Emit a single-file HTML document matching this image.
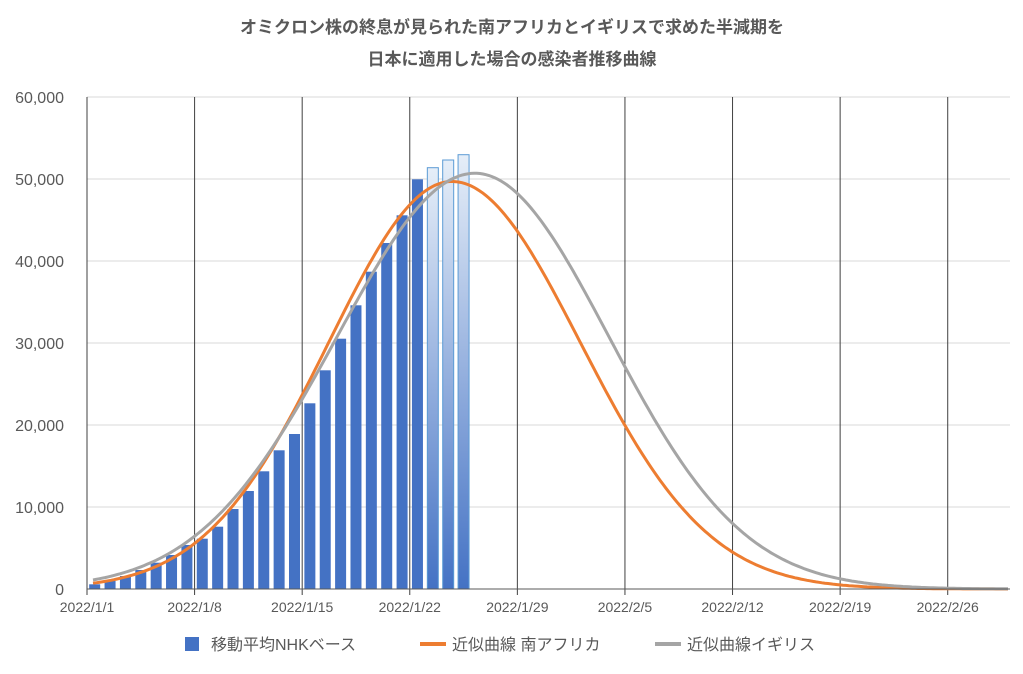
<!DOCTYPE html>
<html><head><meta charset="utf-8"><style>
body{margin:0;background:#fff;}
svg text{font-family:"Liberation Sans","Noto Sans CJK JP",sans-serif;}
</style></head><body>
<svg id="c" width="1023" height="669" xmlns="http://www.w3.org/2000/svg">
<defs><linearGradient id="g" x1="0" y1="0" x2="0" y2="1"><stop offset="0" stop-color="#e6eef8"/><stop offset="1" stop-color="#4472c4"/></linearGradient></defs>
<rect width="1023" height="669" fill="#fff"/>
<text x="512" y="33" text-anchor="middle" font-size="17" font-weight="bold" fill="#595959">オミクロン株の終息が見られた南アフリカとイギリスで求めた半減期を</text>
<text x="512" y="65" text-anchor="middle" font-size="17" font-weight="bold" fill="#595959">日本に適用した場合の感染者推移曲線</text>
<g id="grid"></g>
<g id="bars"></g>
<path id="po" fill="none" stroke="#ed7d31" stroke-width="3"/>
<path id="pg" fill="none" stroke="#a5a5a5" stroke-width="3"/>
<line x1="87" y1="589" x2="1010" y2="589" stroke="#595959" stroke-width="1"/>
<g id="lab" font-size="14" fill="#595959"></g>
<g font-size="16" fill="#595959">
<rect x="185" y="637" width="14" height="14" fill="#4472c4"/>
<text x="211" y="650">移動平均NHKベース</text>
<line x1="420" y1="644" x2="446" y2="644" stroke="#ed7d31" stroke-width="4"/>
<text x="452" y="650">近似曲線 南アフリカ</text>
<line x1="655" y1="644" x2="681" y2="644" stroke="#a5a5a5" stroke-width="4"/>
<text x="687" y="650">近似曲線イギリス</text>
</g>
</svg>
<script>
var ns="http://www.w3.org/2000/svg";
function el(p,t,a,txt){var e=document.createElementNS(ns,t);for(var k in a)e.setAttribute(k,a[k]);if(txt!==undefined)e.textContent=txt;document.getElementById(p).appendChild(e);}
var x0=87,d=15.37,y0=589,k=0.0082;
for(var i=1;i<=6;i++){var y=y0-i*10000*k;el("grid","line",{x1:87,x2:1010,y1:y,y2:y,stroke:"#d9d9d9","stroke-width":1});}
var dates=["2022/1/1","2022/1/8","2022/1/15","2022/1/22","2022/1/29","2022/2/5","2022/2/12","2022/2/19","2022/2/26"];
for(var i=0;i<9;i++){var x=x0+i*7*d;el("grid","line",{x1:x,x2:x,y1:97,y2:595,stroke:"#404040","stroke-width":1});el("lab","text",{x:x,y:612,"text-anchor":"middle"},dates[i]);}
for(var i=0;i<=6;i++){el("lab","text",{x:64,y:y0-i*10000*k+6,"text-anchor":"end","font-size":"16"},i==0?"0":(i*10)+",000");}
var tops=[584.3,581,576,570,562.7,555,545,538.7,526.7,509,491,471.3,450.3,434,403.3,370.3,338.7,305.3,271.7,243,215.3,179.3,167.7,160,154.7];
for(var i=0;i<25;i++){var cx=x0+(i+0.5)*d;var light=i>=22;el("bars","rect",{x:cx-5.5,y:tops[i],width:11,height:589-tops[i],fill:light?"url(#g)":"#4472c4",stroke:light?"#5b9bd5":"none","stroke-width":1});}
function path(px,amp,sl,sr){var p="";for(var x=93;x<=1010;x+=3){var s=x<px?sl:sr;var v=amp*Math.exp(-(x-px)*(x-px)/(2*s*s));p+=(p?"L":"M")+x+","+(y0-v*k).toFixed(1);}return p;}
document.getElementById("po").setAttribute("d",path(452,49700,123,128));
document.getElementById("pg").setAttribute("d",path(475,50700,138,134));
</script>
</body></html>
